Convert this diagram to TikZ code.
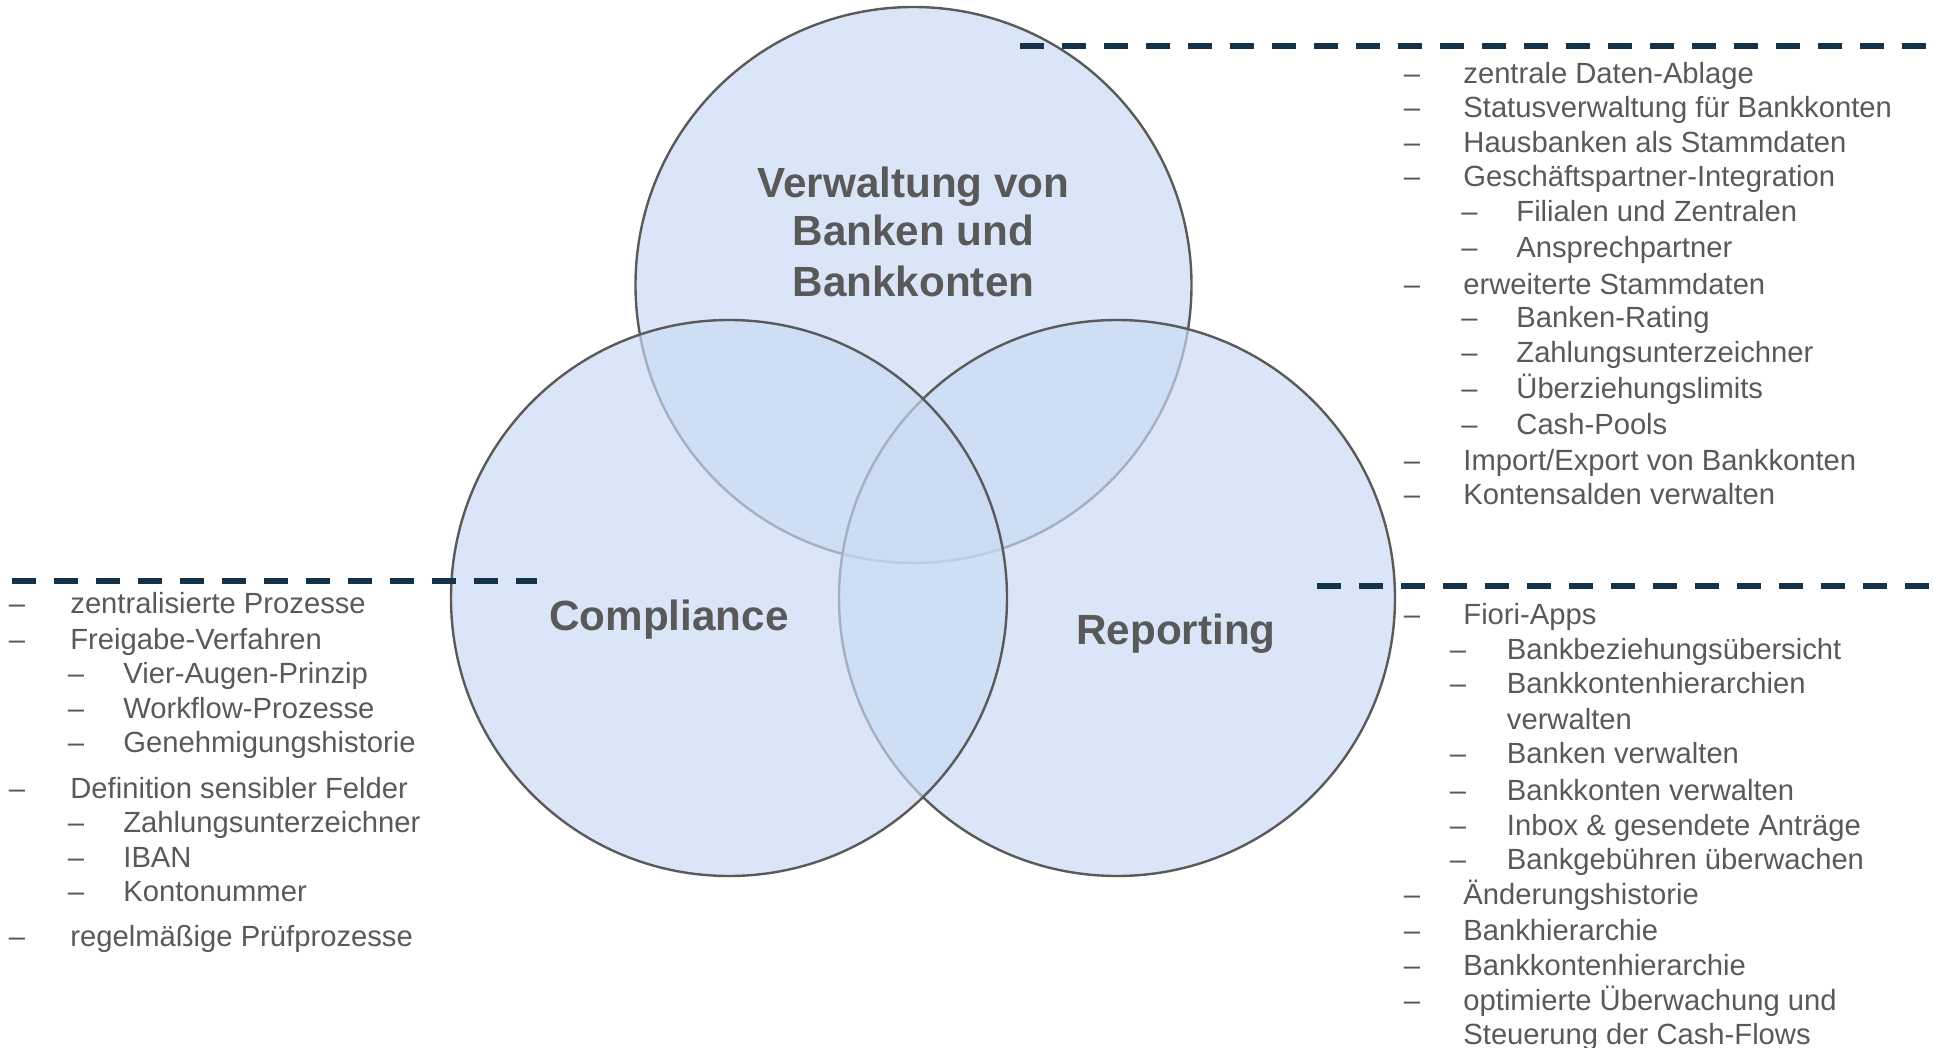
\documentclass[tikz,border=0pt]{standalone}
\usepackage{fontspec}
\setmainfont{Liberation Sans}
\definecolor{vennfill}{RGB}{200,218,243}
\definecolor{venndraw}{RGB}{90,90,90}
\definecolor{txtgray}{RGB}{89,89,89}
\definecolor{navy}{RGB}{20,50,72}
\tikzset{
  venn/.style={circle, minimum size=278pt, inner sep=0pt, outer sep=0pt, draw=venndraw, line width=1.2pt, fill=vennfill, fill opacity=0.68, draw opacity=1},
  title/.style={anchor=base, inner sep=0pt, text=txtgray, font=\fontsize{21.1}{24}\selectfont\bfseries},
  dashsty/.style={anchor=base, inner sep=0pt, text=txtgray, font=\fontsize{14.6}{17}\selectfont, yshift=-1pt},
  txtsty/.style={anchor=base west, inner sep=0pt, text=txtgray, font=\fontsize{14.6}{17}\selectfont, yshift=-1pt},
  sepline/.style={draw=navy, line width=3pt, dash pattern=on 12pt off 9pt}
}
\newcommand\myitem[5]{%
  \node[dashsty] (#1d) at (#2,#4) {–};
  \node[txtsty] (#1) at (#3,#4) {#5};}
\begin{document}
\begin{tikzpicture}[x=0.5pt,y=-0.5pt]
\useasboundingbox (0,0) rectangle (1933,1048);
% circles
\node[venn] (ctop) at (913.5,285) {};
\node[venn] (crep) at (1117,598) {};
\node[venn] (ccomp) at (729,598) {};
% titles
\node[title] (t1) at (913.5,197.5) {Verwaltung von};
\node[title] (t2) at (913.5,245.5) {Banken und};
\node[title] (t3) at (913.5,296.5) {Bankkonten};
\node[title] (tc) at (669,630.5) {Compliance};
\node[title] (tr) at (1176,644) {Reporting};
% dashed separators
\coordinate (a1) at (1020,45.7); \coordinate (a2) at (1933,45.7);
\coordinate (b1) at (11.7,580.7); \coordinate (b2) at (537,580.7);
\coordinate (c1) at (1317.3,585.7); \coordinate (c2) at (1933,585.7);
\draw[sepline] (a1) -- (a2);
\draw[sepline] (b1) -- (b2);
\draw[sepline] (c1) -- (c2);
% top right list
\myitem{ta}{1412}{1463}{82}{zentrale Daten-Ablage}
\myitem{tb}{1412}{1463}{116}{Statusverwaltung für Bankkonten}
\myitem{tcx}{1412}{1463}{151}{Hausbanken als Stammdaten}
\myitem{td}{1412}{1463}{185}{Geschäftspartner-Integration}
\myitem{te}{1469.5}{1516}{220}{Filialen und Zentralen}
\myitem{tf}{1469.5}{1516}{256}{Ansprechpartner}
\myitem{tg}{1412}{1463}{292}{erweiterte Stammdaten}
\myitem{th}{1469.5}{1516}{326}{Banken-Rating}
\myitem{ti}{1469.5}{1516}{361}{Zahlungsunterzeichner}
\myitem{tj}{1469.5}{1516}{396}{Überziehungslimits}
\myitem{tk}{1469.5}{1516}{432}{Cash-Pools}
\myitem{tl}{1412}{1463}{468}{Import/Export von Bankkonten}
\myitem{tm}{1412}{1463}{502}{Kontensalden verwalten}
% left list
\myitem{la}{17}{70}{611}{zentralisierte Prozesse}
\myitem{lb}{17}{70}{647}{Freigabe-Verfahren}
\myitem{lc}{76}{123}{681}{Vier-Augen-Prinzip}
\myitem{ld}{76}{123}{716}{Workflow-Prozesse}
\myitem{le}{76}{123}{750}{Genehmigungshistorie}
\myitem{lf}{17}{70}{796}{Definition sensibler Felder}
\myitem{lg}{76}{123}{830}{Zahlungsunterzeichner}
\myitem{lh}{76}{123}{865}{IBAN}
\myitem{li}{76}{123}{899}{Kontonummer}
\myitem{lj}{17}{70}{944}{regelmäßige Prüfprozesse}
% bottom right list
\myitem{ra}{1412}{1463}{622}{Fiori-Apps}
\myitem{rb}{1458}{1506.5}{657}{Bankbeziehungsübersicht}
\myitem{rc}{1458}{1506.5}{691}{Bankkontenhierarchien}
\node[txtsty] (rcc) at (1506.5,727) {verwalten};
\myitem{rd}{1458}{1506.5}{761}{Banken verwalten}
\myitem{re}{1458}{1506.5}{798}{Bankkonten verwalten}
\myitem{rf}{1458}{1506.5}{833}{Inbox \& gesendete Anträge}
\myitem{rg}{1458}{1506.5}{867}{Bankgebühren überwachen}
\myitem{rh}{1412}{1463}{902}{Änderungshistorie}
\myitem{ri}{1412}{1463}{938}{Bankhierarchie}
\myitem{rj}{1412}{1463}{973}{Bankkontenhierarchie}
\myitem{rk}{1412}{1463}{1008}{optimierte Überwachung und}
\node[txtsty] (rkc) at (1463,1042) {Steuerung der Cash-Flows};
\end{tikzpicture}
\end{document}
